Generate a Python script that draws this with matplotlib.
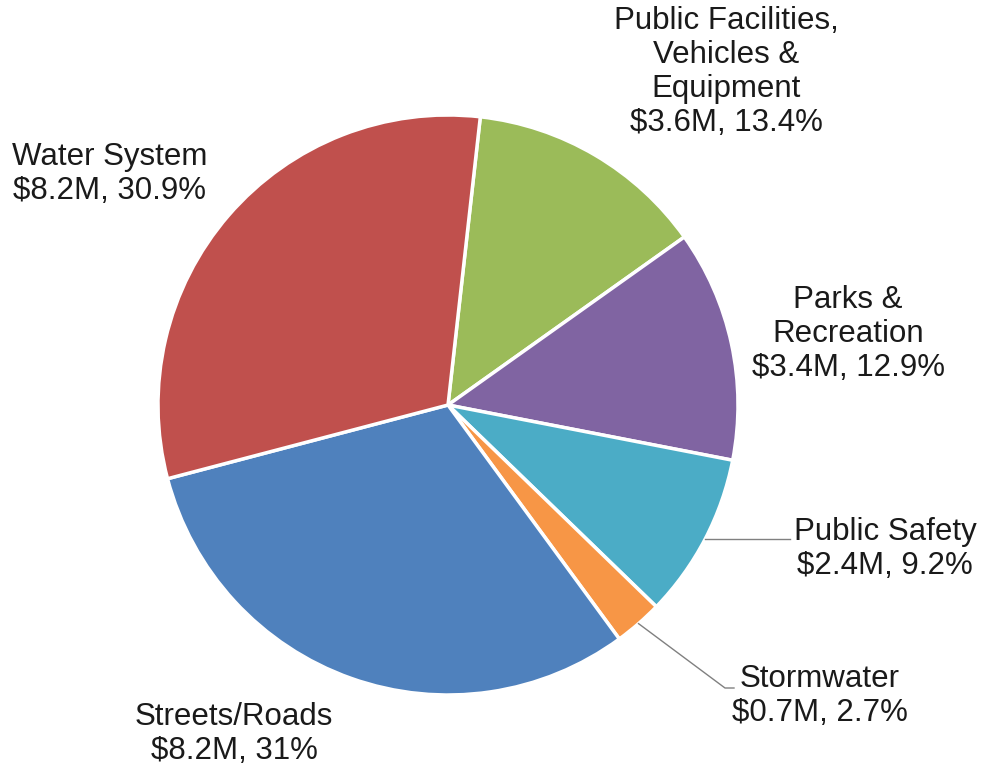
import numpy as np
import matplotlib
matplotlib.use("Agg")
from matplotlib import pyplot as plt

plt.rcParams["font.family"] = ["Liberation Sans", "DejaVu Sans"]

# data, clockwise from the top
categories = ["Public Facilities,\nVehicles &\nEquipment", "Parks &\nRecreation",
              "Public Safety", "Stormwater", "Streets/Roads", "Water System"]
amounts = ["$3.6M", "$3.4M", "$2.4M", "$0.7M", "$8.2M", "$8.2M"]
percents = [13.4, 12.9, 9.2, 2.7, 31, 30.9]
pct_labels = ["13.4%", "12.9%", "9.2%", "2.7%", "31%", "30.9%"]
colors = ["#9BBB59", "#8064A2", "#4BACC6", "#F79646", "#4F81BD", "#C0504D"]

# label centres in pixel coords of the 983x769 image
label_px = [(726, 72), (848, 334), (885, 549), (820, 696), (234, 734), (110, 174)]
cx, cy, R = 448, 405, 290

fig = plt.figure(figsize=(9.83, 7.69), dpi=100)
ax = fig.add_axes([0, 0, 1, 1])

wedges, _ = ax.pie(percents, colors=colors, startangle=83.6, counterclock=False,
                   radius=1, center=(0, 0), frame=True,
                   wedgeprops=dict(edgecolor="white", linewidth=2.5))
ax.set_xlim(-cx / R, (983 - cx) / R)
ax.set_ylim((cy - 769) / R, cy / R)
ax.set_aspect("equal")
ax.axis("off")


def px2d(px, py):
    return (px - cx) / R, (cy - py) / R


for i in range(len(categories)):
    x, y = px2d(*label_px[i])
    ax.text(x, y, f"{categories[i]}\n{amounts[i]}, {pct_labels[i]}",
            ha="center", va="center", fontsize=22.5, color="#1a1a1a",
            linespacing=1.16)

# leader lines for the two small slices
def mid_point(w):
    a = np.deg2rad((w.theta1 + w.theta2) / 2)
    return np.cos(a), np.sin(a)

x0, y0 = mid_point(wedges[2])
ax.plot([x0, px2d(790, 0)[0]], [y0, y0], color="#808080", lw=1)

x0, y0 = mid_point(wedges[3])
xe, ye = px2d(725, 688)
xf, _ = px2d(734, 688)
ax.plot([x0, xe, xf], [y0, ye, ye], color="#808080", lw=1)

fig.savefig("out.png", dpi=100)
